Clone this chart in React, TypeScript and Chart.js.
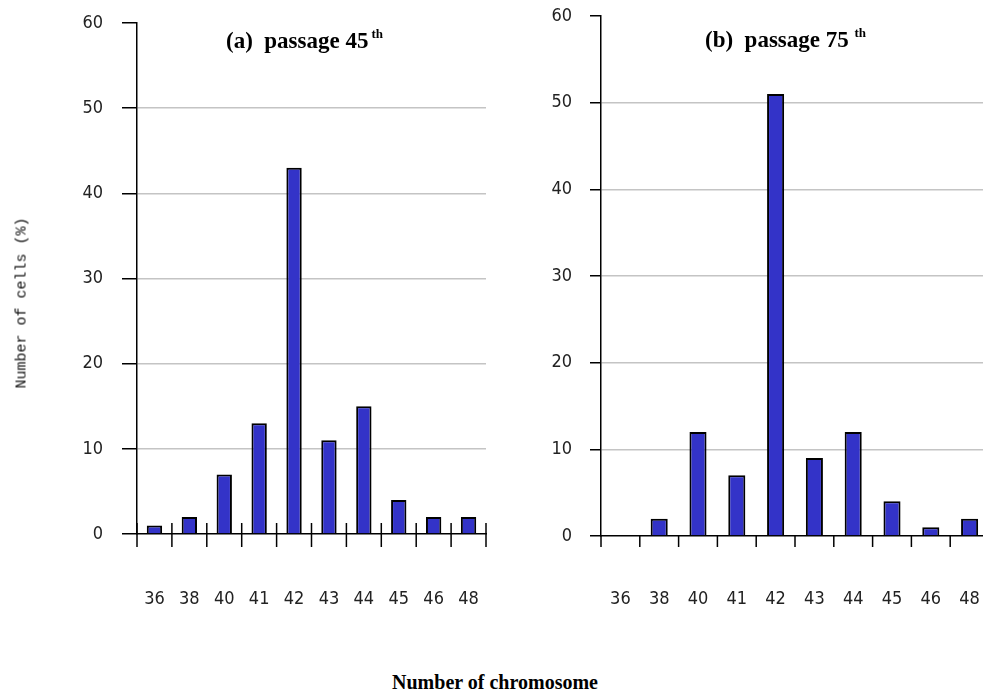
import React, { useEffect, useRef } from "react";
import { Chart, registerables } from "chart.js";

Chart.register(...registerables);

const categories = ["36", "38", "40", "41", "42", "43", "44", "45", "46", "48"];
const passage45 = [1, 2, 7, 13, 43, 11, 15, 4, 2, 2];
const passage75 = [0, 2, 12, 7, 51, 9, 12, 4, 1, 2];
const yMax = 60;
const yStep = 10;

const TICK_FONT = "'Liberation Sans Narrow', 'DejaVu Sans Condensed', 'Liberation Sans', sans-serif";

const catTicks = {
  id: "catTicks",
  afterDraw(chart: any, _args: any, opts: any) {
    const xs = chart.scales.x;
    const n = chart.data.labels.length;
    const bottom = chart.chartArea.bottom;
    const step = n > 1 ? xs.getPixelForValue(1) - xs.getPixelForValue(0) : 0;
    const ctx = chart.ctx;
    ctx.save();
    ctx.strokeStyle = "#000";
    ctx.lineWidth = 1.5;
    for (let i = 0; i <= n; i++) {
      const px = xs.getPixelForValue(Math.min(i, n - 1)) + (i < n ? -step / 2 : step / 2);
      ctx.beginPath();
      ctx.moveTo(px, bottom - (opts.above || 0));
      ctx.lineTo(px, bottom + (opts.below || 0));
      ctx.stroke();
    }
    ctx.restore();
  },
};

type PanelProps = {
  values: number[];
  left: number;
  width: number;
  height: number;
  yAxisWidth: number;
  padTop: number;
  padRight: number;
  xAxisHeight: number;
  labelPad: number;
  yTickLen: number;
  yLabelPad: number;
  above: number;
  below: number;
};

function BarPanel(p: PanelProps) {
  const ref = useRef<HTMLCanvasElement | null>(null);
  useEffect(() => {
    if (!ref.current) return;
    const chart = new Chart(ref.current, {
      type: "bar",
      data: {
        labels: categories,
        datasets: [
          {
            data: p.values,
            backgroundColor: "#3333c8",
            borderColor: "#000",
            borderWidth: 2,
            borderSkipped: "bottom",
            barPercentage: 0.44,
            categoryPercentage: 1,
          },
        ],
      },
      plugins: [catTicks],
      options: {
        animation: false,
        responsive: false,
        devicePixelRatio: 1,
        layout: { padding: { top: p.padTop, right: p.padRight, left: 0, bottom: 0 } },
        plugins: {
          legend: { display: false },
          tooltip: { enabled: false },
          title: { display: false },
          catTicks: { above: p.above, below: p.below },
        } as any,
        scales: {
          x: {
            offset: true,
            grid: { display: false, drawTicks: false },
            border: { display: true, color: "#000", width: 1.5 },
            ticks: {
              padding: p.labelPad,
              color: "#222",
              font: { family: TICK_FONT, size: 18 },
              maxRotation: 0,
              autoSkip: false,
            },
            afterFit: (s: any) => {
              s.height = p.xAxisHeight;
              s.paddingLeft = 0;
              s.paddingRight = 0;
            },
          },
          y: {
            min: 0,
            max: yMax,
            grid: {
              color: (c: any) =>
                c.tick && (c.tick.value === yMax || c.tick.value === 0) ? "rgba(0,0,0,0)" : "#c4c4c4",
              lineWidth: 1.5,
              drawTicks: true,
              tickLength: p.yTickLen,
              tickColor: "#000",
              tickWidth: 1.5,
            },
            border: { display: true, color: "#000", width: 1.5 },
            ticks: {
              stepSize: yStep,
              padding: p.yLabelPad,
              color: "#222",
              font: { family: TICK_FONT, size: 18 },
            },
            afterFit: (s: any) => {
              s.width = p.yAxisWidth;
              s.paddingTop = 0;
              s.paddingBottom = 0;
            },
          },
        },
      },
    });
    return () => chart.destroy();
  }, []);
  return (
    <canvas
      ref={ref}
      width={p.width}
      height={p.height}
      style={{ position: "absolute", left: p.left, top: 0, width: p.width, height: p.height }}
    />
  );
}

const titleStyle: React.CSSProperties = {
  position: "absolute",
  fontFamily: "'Liberation Serif', 'Times New Roman', serif",
  fontWeight: "bold",
  fontSize: 23,
  lineHeight: "23px",
  whiteSpace: "pre",
  color: "#000",
};

const supStyle: React.CSSProperties = {
  fontSize: 13,
  position: "relative",
  top: -10,
};

export default function App() {
  return (
    <div
      style={{
        position: "absolute",
        left: 0,
        top: 0,
        width: 983,
        height: 695,
        overflow: "hidden",
        background: "#fff",
      }}
    >
      <BarPanel
        values={passage45}
        left={0}
        width={500}
        height={640}
        yAxisWidth={137}
        padTop={23}
        padRight={14}
        xAxisHeight={106}
        labelPad={55}
        yTickLen={15}
        yLabelPad={19}
        above={11}
        below={13}
      />
      <BarPanel
        values={passage75}
        left={500}
        width={500}
        height={640}
        yAxisWidth={101}
        padTop={16}
        padRight={11}
        xAxisHeight={104}
        labelPad={53}
        yTickLen={11}
        yLabelPad={18}
        above={0}
        below={11}
      />
      <div style={{ ...titleStyle, left: 226, top: 29 }}>
        {"(a)  passage 45"}
        <span style={{ ...supStyle, marginLeft: 3 }}>th</span>
      </div>
      <div style={{ ...titleStyle, left: 705, top: 28 }}>
        {"(b)  passage 75 "}
        <span style={supStyle}>th</span>
      </div>
      <div
        style={{
          position: "absolute",
          left: 22,
          top: 303,
          transform: "translate(-50%, -50%) rotate(-90deg)",
          fontFamily: "'Liberation Mono', 'Courier New', monospace",
          fontSize: 15,
          whiteSpace: "nowrap",
          color: "#111",
        }}
      >
        Number of cells (%)
      </div>
      <div
        style={{
          ...titleStyle,
          fontSize: 20,
          lineHeight: "20px",
          left: 495,
          top: 672,
          transform: "translateX(-50%)",
        }}
      >
        Number of chromosome
      </div>
    </div>
  );
}
